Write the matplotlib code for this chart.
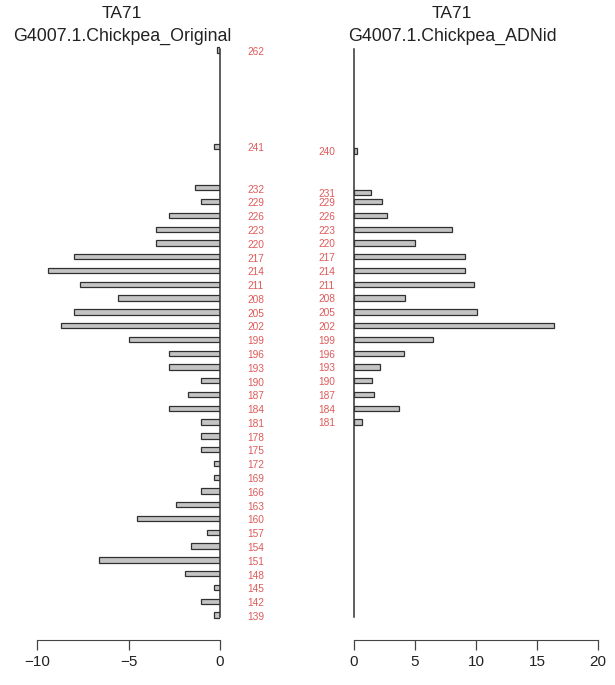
import matplotlib.pyplot as plt

plt.rcParams['font.family'] = ['Liberation Sans', 'DejaVu Sans']

# allele sizes and frequencies (%)
orig_alleles = [262, 241, 232, 229, 226, 223, 220, 217, 214, 211, 208, 205, 202, 199,
                196, 193, 190, 187, 184, 181, 178, 175, 172, 169, 166, 163, 160, 157,
                154, 151, 148, 145, 142, 139]
orig_freq = [0.17, 0.35, 1.39, 1.04, 2.78, 3.47, 3.47, 7.99, 9.38, 7.64, 5.56, 7.99, 8.68, 5.0,
             2.78, 2.78, 1.04, 1.74, 2.78, 1.04, 1.04, 1.04, 0.35, 0.35, 1.04, 2.43, 4.51, 0.69,
             1.56, 6.6, 1.91, 0.35, 1.04, 0.35]

adnid_alleles = [240, 231, 229, 226, 223, 220, 217, 214, 211, 208, 205, 202, 199, 196,
                 193, 190, 187, 184, 181]
adnid_freq = [0.27, 1.42, 2.3, 2.7, 8.0, 5.0, 9.1, 9.1, 9.8, 4.15, 10.1, 16.4, 6.5, 4.1,
              2.1, 1.5, 1.6, 3.65, 0.65]

left_ticks = [-10, -5, 0]
right_ticks = [0, 5, 10, 15, 20]

W, H = 615, 685
fig = plt.figure(figsize=(W / 100, H / 100), dpi=100)

ylo, yhi = 133.56, 264.19
bot = (H - 640) / H
hgt = 600 / H

ax1 = fig.add_axes([37 / W, bot, 183 / W, hgt])
ax2 = fig.add_axes([354 / W, bot, 244 / W, hgt])

bar_kw = dict(height=1.15, color='#c4c4c4', edgecolor='#303030', linewidth=0.9)
lab_kw = dict(color='#e05a5a', fontsize=7.3, va='center', clip_on=False)

ax1.barh(orig_alleles, [-v for v in orig_freq], **bar_kw)
ax1.set_xlim(-10, 0)
for a in orig_alleles:
    ax1.text(1.5, a - 0.4, str(a), ha='left', **lab_kw)

ax2.barh(adnid_alleles, adnid_freq, **bar_kw)
ax2.set_xlim(0, 20)
for a in adnid_alleles:
    ax2.text(-2.95, a - 0.3, str(a), ha='left', **lab_kw)

for ax, ticks in [(ax1, left_ticks), (ax2, right_ticks)]:
    ax.set_ylim(ylo, yhi)
    ax.plot([0, 0], [138.5, 262.3], color='#333333', lw=1.1, clip_on=False)
    for s in ['top', 'right', 'left']:
        ax.spines[s].set_visible(False)
    ax.spines['bottom'].set_color('#444444')
    ax.spines['bottom'].set_bounds(ticks[0], ticks[-1])
    ax.set_yticks([])
    ax.set_xticks(ticks)
    ax.tick_params(axis='x', direction='out', length=7, width=0.9, colors='#444444',
                   labelcolor='#222222', labelsize=11, pad=4)
    ax.patch.set_visible(False)

for x, sub in [(122, 'G4007.1.Chickpea_Original'), (452, 'G4007.1.Chickpea_ADNid')]:
    fig.text(x / W, 1 - 14 / H, 'TA71', ha='center', va='center', fontsize=12.5, color='#222222')
    fig.text(x / W, 1 - 36 / H, sub, ha='center', va='center', fontsize=12.8, color='#222222')

fig.savefig('out.png', dpi=100)
